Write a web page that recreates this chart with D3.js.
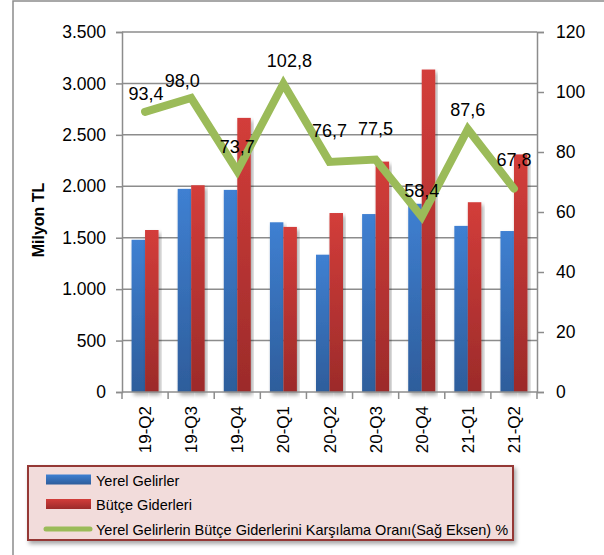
<!DOCTYPE html>
<html>
<head>
<meta charset="utf-8">
<script src="https://cdn.jsdelivr.net/npm/d3@7"></script>
<style>
  body { margin: 0; background: #fff; }
  svg { display: block; font-family: "Liberation Sans", Arial, sans-serif; }
</style>
</head>
<body>
<div id="graph"></div>
<script>
// data
var quarters = ["19-Q2", "19-Q3", "19-Q4", "20-Q1", "20-Q2", "20-Q3", "20-Q4", "21-Q1", "21-Q2"];
var yerelGelirler = [1480, 1975, 1965, 1650, 1335, 1730, 1830, 1615, 1565];
var butceGiderleri = [1575, 2010, 2665, 1605, 1740, 2240, 3135, 1845, 2310];
var karsilamaOrani = [93.4, 98.0, 73.7, 102.8, 76.7, 77.5, 58.4, 87.6, 67.8];
var leftTicks = [0, 500, 1000, 1500, 2000, 2500, 3000, 3500];
var rightTicks = [0, 20, 40, 60, 80, 100, 120];

var width = 604, height = 555;
var m = { left: 122, right: 537, top: 32, bottom: 392 };
var gridColor = "#8c8c8c";

var svg = d3.select("#graph").append("svg")
  .attr("width", width)
  .attr("height", height);

var defs = svg.append("defs");
function grad(id, top, bottom) {
  var g = defs.append("linearGradient").attr("id", id)
    .attr("x1", 0).attr("y1", 0).attr("x2", 0).attr("y2", 1);
  g.append("stop").attr("offset", "0%").attr("stop-color", top);
  g.append("stop").attr("offset", "100%").attr("stop-color", bottom);
}
grad("gBlue", "#3f80d2", "#2e5d9b");
grad("gRed", "#d33d3a", "#9c2b2a");

var shadow = defs.append("filter").attr("id", "shadow")
  .attr("x", "-10%").attr("y", "-10%").attr("width", "130%").attr("height", "140%");
shadow.append("feDropShadow").attr("dx", 2).attr("dy", 3).attr("stdDeviation", 2)
  .attr("flood-color", "#000").attr("flood-opacity", 0.35);

// outer chart border
svg.append("rect")
  .attr("x", 13).attr("y", 1)
  .attr("width", 650).attr("height", 650)
  .attr("fill", "none").attr("stroke", gridColor).attr("stroke-width", 1.5);

// scales
var x = d3.scaleBand().domain(quarters).range([m.left, m.right]);
var y = d3.scaleLinear().domain([0, 3500]).range([m.bottom, m.top]);
var y2 = d3.scaleLinear().domain([0, 120]).range([m.bottom, m.top]);

var numFmt = function(d) { return d3.format(",")(d).replace(/,/g, "."); };

// gridlines
svg.append("g").selectAll("line")
  .data(leftTicks.slice(1))
  .enter().append("line")
  .attr("x1", m.left).attr("x2", m.right)
  .attr("y1", function(d) { return y(d); })
  .attr("y2", function(d) { return y(d); })
  .attr("stroke", gridColor).attr("stroke-width", 1.5);

// left axis
var leftAxis = svg.append("g")
  .attr("transform", "translate(" + m.left + ",0)")
  .call(d3.axisLeft(y).tickValues(leftTicks).tickFormat(numFmt).tickSize(6).tickPadding(10));
leftAxis.selectAll("text").attr("font-size", 17.5).attr("fill", "#000").attr("font-family", "Liberation Sans, Arial");
leftAxis.selectAll("line, path").attr("stroke", gridColor).attr("stroke-width", 1.5);

// right axis
var rightAxis = svg.append("g")
  .attr("transform", "translate(" + m.right + ",0)")
  .call(d3.axisRight(y2).tickValues(rightTicks).tickSize(7).tickPadding(12));
rightAxis.selectAll("text").attr("font-size", 17.5).attr("fill", "#000").attr("font-family", "Liberation Sans, Arial");
rightAxis.selectAll("line, path").attr("stroke", gridColor).attr("stroke-width", 1.5);

// y title
svg.append("text")
  .attr("transform", "translate(44," + ((m.top + m.bottom) / 2 + 8) + ") rotate(-90)")
  .attr("text-anchor", "middle")
  .attr("font-size", 16).attr("font-weight", "bold")
  .text("Milyon TL");

// bars
var bw = 13.5;
var bars = svg.append("g");
bars.selectAll(".blue")
  .data(quarters)
  .enter().append("rect")
  .attr("x", function(d) { return x(d) + x.bandwidth() / 2 - bw; })
  .attr("y", function(d, i) { return y(yerelGelirler[i]); })
  .attr("width", bw)
  .attr("height", function(d, i) { return m.bottom - y(yerelGelirler[i]); })
  .attr("fill", "url(#gBlue)")
  .attr("filter", "url(#shadow)");
bars.selectAll(".red")
  .data(quarters)
  .enter().append("rect")
  .attr("x", function(d) { return x(d) + x.bandwidth() / 2; })
  .attr("y", function(d, i) { return y(butceGiderleri[i]); })
  .attr("width", bw)
  .attr("height", function(d, i) { return m.bottom - y(butceGiderleri[i]); })
  .attr("fill", "url(#gRed)")
  .attr("filter", "url(#shadow)");

// x axis
var xAxis = svg.append("g")
  .attr("transform", "translate(0," + m.bottom + ")");
xAxis.append("line")
  .attr("x1", m.left).attr("x2", m.right)
  .attr("stroke", gridColor).attr("stroke-width", 1.5);
var bounds = quarters.map(function(d) { return x(d); }).concat([m.right]);
xAxis.selectAll(".tk")
  .data(bounds)
  .enter().append("line")
  .attr("x1", function(d) { return d; }).attr("x2", function(d) { return d; })
  .attr("y1", 0).attr("y2", 7)
  .attr("stroke", gridColor).attr("stroke-width", 1.5);
xAxis.selectAll("text")
  .data(quarters)
  .enter().append("text")
  .attr("transform", function(d) {
    return "translate(" + (x(d) + x.bandwidth() / 2 + 6) + ",14) rotate(-90)";
  })
  .attr("text-anchor", "end")
  .attr("font-size", 17)
  .text(function(d) { return d; });

// ratio line
var line = d3.line()
  .x(function(d, i) { return x(quarters[i]) + x.bandwidth() / 2; })
  .y(function(d) { return y2(d); });
svg.append("path")
  .datum(karsilamaOrani)
  .attr("d", line)
  .attr("fill", "none")
  .attr("stroke", "#9bbb59")
  .attr("stroke-width", 8)
  .attr("stroke-linecap", "round")
  .attr("stroke-linejoin", "miter");

// data labels (a few nudged like the original)
var nudge = {
  "19-Q2": [1, 6], "19-Q3": [-9, 7], "20-Q1": [6, 1], "20-Q2": [0, -7],
  "20-Q3": [0, -7], "20-Q4": [0, -2], "21-Q1": [0, 5], "21-Q2": [0, -5]
};
svg.append("g").selectAll("text")
  .data(karsilamaOrani)
  .enter().append("text")
  .attr("x", function(d, i) {
    var n = nudge[quarters[i]] || [0, 0];
    return x(quarters[i]) + x.bandwidth() / 2 + n[0];
  })
  .attr("y", function(d, i) {
    var n = nudge[quarters[i]] || [0, 0];
    return y2(d) - 18 + n[1];
  })
  .attr("text-anchor", "middle")
  .attr("font-size", 18)
  .text(function(d) { return d.toFixed(1).replace(".", ","); });

// legend
var lg = svg.append("g");
lg.append("rect")
  .attr("x", 28).attr("y", 466)
  .attr("width", 485).attr("height", 74)
  .attr("fill", "#f2dcdb")
  .attr("stroke", "#953735").attr("stroke-width", 2)
  .attr("filter", "url(#shadow)");
var legendItems = [
  { name: "Yerel Gelirler", type: "bar", fill: "url(#gBlue)" },
  { name: "Bütçe Giderleri", type: "bar", fill: "url(#gRed)" },
  { name: "Yerel Gelirlerin Bütçe Giderlerini Karşılama Oranı(Sağ Eksen) %", type: "line", fill: "#9bbb59" }
];
var li = lg.selectAll(".li")
  .data(legendItems)
  .enter().append("g")
  .attr("transform", function(d, i) { return "translate(0," + (480 + i * 24.5) + ")"; });
li.filter(function(d) { return d.type == "bar"; })
  .append("rect")
  .attr("x", 46).attr("y", -5.5)
  .attr("width", 45).attr("height", 10)
  .attr("fill", function(d) { return d.fill; });
li.filter(function(d) { return d.type == "line"; })
  .append("line")
  .attr("x1", 46).attr("x2", 90)
  .attr("stroke", function(d) { return d.fill; })
  .attr("stroke-width", 5).attr("stroke-linecap", "round");
li.append("text")
  .attr("x", 96).attr("y", 5.5)
  .attr("font-size", 14.5)
  .text(function(d) { return d.name; });
</script>
</body>
</html>
